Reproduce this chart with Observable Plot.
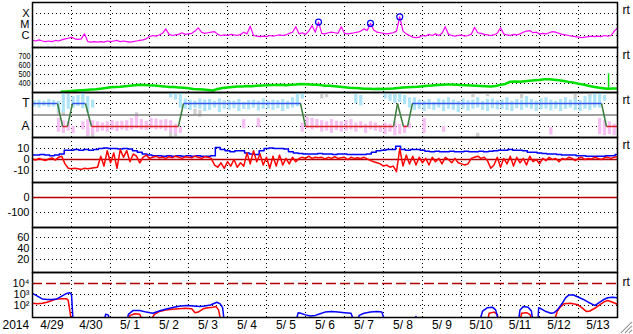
<!DOCTYPE html>
<html><head><meta charset="utf-8">
<script src="https://cdn.jsdelivr.net/npm/d3@7"></script>
<script src="https://cdn.jsdelivr.net/npm/@observablehq/plot@0.6"></script>
<style>
body{margin:0;background:#fff;}
#chart{position:relative;width:633px;height:334px;overflow:hidden;background:#fff;}
#chart svg{position:absolute;left:0;}
</style></head><body><div id="chart"></div>
<script>
// ---------- time axis (hours since 2014-04-29 00:00) ----------
const yearLabel = "2014";
const dayLabels = ["4/29","4/30","5/ 1","5/ 2","5/ 3","5/ 4","5/ 5","5/ 6","5/ 7","5/ 8","5/ 9","5/10","5/11","5/12","5/13"];
const dayGridHours = [24,48,72,96,120,144,168,192,216,240,264,288,312,336];
const dayLabelHours = [12,36,60,84,108,132,156,180,204,228,252,276,300,324,348];

// ---------- panel 1: X-ray flux (log10 W/m2), 2-hour steps ----------
const xrayTicks = [1e-4, 1e-5, 1e-6];
const xrayTickLabels = ["X","M","C"];
const xrayStepHours = 2;
const xrayLog = [
-6.45,-6.5,-6.4,-6.5,-6.55,-6.5,-6.55,-6.45,-6.5,-6.4,
-6.3,-6.25,-6.15,-6.3,-6.35,-6.3,-5.85,-6.55,-6.6,-6.55,
-6.6,-6.55,-6.6,-6.5,-6.55,-6.5,-6.45,-6.55,-6.5,-6.55,
-6.6,-6.55,-6.5,-6.45,-6.4,-6.3,-6.1,-6.0,-6.05,-5.95,
-5.8,-5.4,-5.9,-6.0,-5.95,-5.9,-5.75,-5.9,-5.85,-5.8,
-5.6,-5.3,-5.7,-5.8,-5.75,-5.7,-5.65,-5.9,-6.0,-5.95,
-6.0,-5.9,-5.95,-6.0,-5.9,-5.7,-5.85,-5.15,-6.0,-6.05,
-6.1,-6.05,-6.1,-6.0,-6.05,-6.0,-5.95,-6.0,-5.95,-5.8,
-5.7,-5.2,-5.85,-5.75,-5.9,-5.6,-5.1,-5.7,-4.78,-5.8,
-5.85,-5.75,-5.7,-5.75,-5.8,-5.2,-5.8,-5.85,-5.8,-5.75,
-5.7,-5.6,-5.4,-5.55,-4.9,-5.5,-5.7,-5.75,-5.8,-5.85,
-5.8,-5.75,-5.6,-4.3,-5.6,-5.85,-6.0,-6.15,-6.2,-6.15,
-6.0,-6.05,-5.9,-6.0,-5.85,-6.0,-5.8,-5.2,-5.9,-6.0,
-6.05,-6.0,-5.95,-6.05,-6.0,-5.9,-5.25,-5.75,-5.8,-5.9,
-5.95,-6.0,-5.95,-5.8,-5.3,-5.85,-5.95,-6.0,-5.9,-5.95,
-5.85,-5.7,-5.6,-5.55,-5.75,-5.7,-5.85,-5.8,-5.85,-5.75,
-5.65,-5.7,-5.8,-5.9,-5.95,-6.0,-6.05,-6.1,-6.15,-6.2,
-6.15,-6.1,-6.05,-6.1,-6.05,-6.1,-6.0,-6.05,-6.0,-5.6,-5.3];
const flareHours = [176, 208, 226];
const flarePeakLog = [-4.78, -4.9, -4.3];

// ---------- panel 2: solar wind speed (km/s), 3-hour steps from hour 18 ----------
const speedTicks = [700,600,500,400];
const speedStartHour = 18, speedStepHours = 3;
const speed = [
310,312,318,322,325,328,332,335,342,350,
358,362,365,370,375,380,386,384,380,378,
372,368,362,360,356,352,346,340,337,333,
328,322,340,350,355,360,366,368,372,370,
376,378,380,384,382,386,380,385,388,395,
393,390,386,382,376,374,370,364,358,353,
350,346,343,341,340,342,340,342,345,350,
355,358,362,365,370,375,378,382,385,388,
390,386,382,380,378,375,372,370,367,372,
385,395,420,422,420,425,430,435,440,446,
448,442,435,428,418,410,398,388,375,365,
355,348,342,345,345];
const speedSpike = [[354.5, 342, 508]];

// ---------- panel 3: IMF sector (T = +1, A = -1) ----------
const sectorTicks = [1, -1];
const sectorTickLabels = ["T","A"];
const sectorHours = [0,15.4,18.5,21.5,24.6,32.6,36.3,89.8,92.9,164.9,168,222.2,224.6,228.3,230.8,233.8,350.2,353.2,360];
const sectorState = ["T","T","A","A","T","T","A","A","T","T","A","A","T","A","A","T","T","A","A"];
// 3-hour bins: [bin, low, high]
const phiToward = [[0,.7,1.25],[1,.6,1.3],[2,.75,1.2],[3,.65,1.35],[4,.7,1.25],[5,.3,1.2],[6,.2,1.9],[7,.5,1.8],[8,.6,1.6],[9,.75,1.7],[10,.55,1.9],[11,.2,1.6],[12,.6,1.3],
[28,1.5,1.96],[29,1.3,1.96],[30,.6,1.9],[31,.5,1.4],[32,.4,1.3],[33,.6,1.2],[34,.5,1.4],[35,.3,1.3],[36,.4,1.35],[37,.6,1.2],[38,.2,1.4],[39,.5,1.25],[40,.4,1.3],[41,.55,1.2],[42,.3,1.35],[43,.5,1.1],[44,.45,1.25],[45,.6,1.3],[46,.35,1.2],[47,.5,1.4],[48,.5,1.2],[49,.4,1.3],[50,.55,1.25],[51,.3,1.35],[52,.5,1.2],[53,.6,1.5],[54,.7,1.96],[55,1.4,1.96],
[66,1.0,1.8],[67,.8,1.7],[72,1.4,1.9],[73,1.2,1.9],[74,1.0,1.8],[75,1.1,1.9],[76,.9,1.7],[77,.6,1.5],[78,.4,1.5],[79,.5,1.3],[80,.3,1.2],[81,.5,1.35],[82,.4,1.1],[83,.6,1.4],[84,.3,1.3],[85,.5,1.5],[86,.4,1.3],[87,.2,1.2],[88,.5,1.4],[89,.35,1.25],[90,.5,1.3],[91,.6,1.5],[92,.4,1.2],[93,.3,1.35],[94,.55,1.4],[95,.45,1.25],[96,.5,1.3],[97,.4,1.5],[98,.3,1.2],[99,.55,1.35],[100,.4,1.3],[101,.6,1.6],[102,.5,1.35],[103,.3,1.2],[104,.45,1.4],[105,.5,1.5],[106,.35,1.3],[107,.5,1.2],[108,.3,1.35],[109,.5,1.5],[110,.6,1.3],[111,.4,1.4],[112,.3,1.25],[113,.5,1.6],[114,.4,1.7],[115,.6,1.9],[116,.6,1.9],[117,1.2,1.7]];
const phiAway = [[5,-1.5,-.3],[6,-1.6,-.5],[7,-1.4,-.6],[8,-1.6,-1.0],[10,-1.3,-.6],[11,-1.8,-.4],[12,-1.7,-.5],[13,-1.5,-.6],[14,-1.4,-.7],[15,-1.5,-.6],[16,-1.35,-.5],[17,-1.45,-.6],[18,-1.3,-.55],[19,-1.4,-.5],[20,-1.3,-.3],[21,-1.2,0],[22,-1.3,-.4],[23,-1.35,-.55],[24,-1.2,-.3],[25,-1.3,-.35],[26,-1.25,-.45],[27,-1.4,-.4],[28,-1.5,-.5],[29,-1.7,-.8],[30,-1.6,-1.1],[43,-1.2,-.4],[46,-1.1,-.3],
[55,-1.5,-.7],[56,-1.2,-.2],[57,-1.3,-.3],[58,-1.2,-.4],[59,-1.5,-.5],[60,-1.4,-.6],[61,-1.6,-.4],[62,-1.35,-.55],[63,-1.5,-.6],[64,-1.4,-.5],[65,-1.3,-.4],[66,-1.5,-.7],[67,-1.2,-.6],[68,-1.6,-.8],[69,-1.3,-.6],[70,-1.4,-.7],[71,-1.5,-.9],[72,-1.7,-.7],[73,-1.5,-.8],[74,-1.8,-.6],[75,-1.7,-.8],[76,-1.6,-.9],[77,-1.2,-.7],[80,-1.6,-.3],[84,-1.5,-1.0],[106,-1.75,-1.1],[116,-1.7,-.3],[117,-1.8,-.5],[118,-1.7,-.6],[119,-1.8,-.8]];
const phiOther = [[5,0,.55],[6,-.1,.5],[11,-1.9,-1.3],[12,-1.95,-1.5],[21,-.5,.2],[28,-1.95,-1.4],[29,-1.9,-1.5],[33,0,.5],[34,-.2,.4],[59,1.4,1.9],[60,1.5,1.95],[74,1.3,1.9],[90,1.5,1.9],[91,-1.95,-1.6],[93,1.6,1.95],[100,1.4,1.9],[111,1.3,1.9],[114,1.5,1.95]];

// ---------- panel 4: IMF Bt (3-hour) and Bz (2-hour), nT ----------
const imfTicks = [10, 0, -10];
const btStepHours = 3;
const bt = [4,4,4.5,4,3.5,4,5,8.5,8.5,9,
8.5,9,8.5,9,10,10.5,10,10,9.5,10,
9.5,8,6.5,5,4,3.5,3.5,3,3.5,3,
3.5,3,3.5,3,3.5,3,3,3.5,11,9,
8,7,8,8,6,5,4.5,8,10,10.5,
10,10,9.5,7,6,5.5,5,5,5,5.5,
5,5,4.5,5,5,4.5,4.5,4.5,4.5,5,
6.5,8,8.5,9,9,12,9,8.5,9,9,
8.5,7.5,7,7.5,7,7,7.5,7,7,7.5,
7,7,7.5,7,7.5,8,8.5,8.5,9,8.5,
8.5,8,6.5,6.5,6,5.5,5,5,4.5,4,
4,4,3.5,3.5,3,3,3,3,3.5,3.5,4.5];
const bzStepHours = 2;
const bz = [0.5,-0.5,1,0,-1,0.5,1.5,-0.5,2,3,
-4,-8,-8.5,-8,-8.5,-9,-8,-8.5,-8,-7.5,
-7,3,-6,8,-3,6,-8,9,2,8,
-2,5,3,-3,2,4,1,2,3,1.5,
2,1,2.5,1.5,3,2,1,2.5,2,1.5,
3,2,1,2.5,2,1,-5,-7,-3,-8,
-2,-6,0,-7,-3,-6,6,-4,8,-2,
5,-5,2,-8,3,-6,4,-5,1,-4,
2,-2,1,2,1,3,1,2,1.5,2,
0.5,2,1,2.5,1,1.5,2,0,2,1,
1.5,1,2,0.5,-1,-2,-3,-4,-6,-5,
-7,-6,-11,10,-6,4,-4,3,-5,2,
-3,1,-5,2,-2,1,-4,2,0,-3,
1,-3,-4,-5,-4,1,2,3,1,2,
-1,-8,-5,2,-7,1,-4,3,-6,2,
-3,1,-5,3,-2,0,-4,1,-1,2,
0,1,-2,1,0,2,1,-1,1,2,
0,1,0.5,2,1,0,1.5,2,1,2,2.5];

// ---------- panel 5 / 6 ----------
const dstTicks = [0, -100];
const p6Ticks = [60, 40, 20];

// ---------- panel 7: electron flux (log10), [hour, value] ----------
const fluxTicks = [1e4, 1e3, 1e2];
const fluxTickLabels = ["10\u2074","10\u00b3","10\u00b2"];
const eBlue = [[0,3.1],[3,2.85],[6,2.6],[9,2.55],[12,2.55],[15,2.6],[18,2.85],[21,3.1],[23,3.15],[24,3.0],[25,0.5],[25.5,null],
[44,0.5],[45,1.2],[46.5,1.15],[48,0.5],[48.5,null],
[58,0.5],[59,1.2],[62,1.55],[66,1.55],[70,1.4],[74,1.3],[79,1.55],[83,1.7],[87,1.85],[91,1.95],[95,2.0],[99,1.95],[103,1.9],[106,1.95],[109.5,2.05],[113.5,2.3],[115.5,2.15],[117,1.8],[118,0.5],[118.5,null],
[162,0.5],[163.5,1.35],[165,1.3],[168,1.15],[171,1.05],[174,1.1],[177,1.25],[180,1.4],[184,1.45],[188,1.4],[192,1.35],[196,1.3],[198,0.5],[198.5,null],
[200,0.5],[201,1.1],[204,1.3],[208,1.4],[212,1.45],[215,1.4],[217,0.5],[217.5,null],
[235,0.5],[236,1.0],[237,0.5],[237.5,null],
[259,0.5],[260,0.9],[262,0.8],[263,0.5],[263.5,null],
[275,0.5],[277,1.5],[280,1.8],[283,1.85],[285,1.6],[287,0.5],[287.5,null],
[299,0.5],[300,1.6],[302,1.9],[305,1.85],[307,1.5],[308,0.5],[308.5,null],
[311,0.5],[311.5,1.8],[313,1.7],[316,1.45],[319,1.3],[321,1.35],[323,1.6],[326,2.2],[328,2.7],[330,2.95],[333,2.95],[336,2.75],[339,2.55],[342,2.3],[344,2.15],[346,2.0],[348,2.2],[351,2.5],[354,2.7],[357,2.75],[360,2.7]];
const eRed = [[0,2.2],[3,2.15],[6,2.2],[9,2.3],[12,2.45],[15,2.6],[18,2.62],[21,2.62],[22,2.45],[23,1.5],[24,0.5],[24.5,null],
[59,0.5],[60,1.1],[63,1.25],[66,1.2],[68,0.5],[68.5,null],
[72,0.5],[75,1.2],[78,1.45],[82,1.6],[86,1.65],[90,1.7],[94,1.75],[98,1.7],[100,1.35],[102,1.4],[105,1.7],[108,1.8],[111,1.85],[113,1.9],[114.5,1.6],[116,0.5],[116.5,null],
[280,0.5],[281,1.3],[284,1.4],[286,1.2],[287,0.5],[287.5,null],
[300,0.5],[301,1.3],[304,1.35],[306,1.2],[308,0.5],[308.5,null],
[321,0.5],[323,1.5],[325,1.9],[327,2.15],[331,2.2],[335,2.1],[338,1.8],[341,1.45],[343,1.5],[346,1.75],[349,2.05],[352,2.35],[354,2.45],[357,2.3],[360,2.1]];

// ---------- drawing ----------
const FONT = "'Liberation Sans', Arial, Helvetica, sans-serif";
const dotted = {stroke: "#000", strokeDasharray: "1,3", strokeWidth: 1};
const chart = document.getElementById("chart");

function rtLabel(opts = {}) {
  return Plot.text(["rt"], {text: d => d, frameAnchor: "top-right", dx: 5, dy: 8, textAnchor: "start", lineAnchor: "middle", fontSize: 12, fill: "#000", ...opts});
}
function yAxis(ticks, fmt, size = 11) {
  return Plot.axisY(ticks, {tickSize: 0, tickPadding: 3, tickFormat: fmt, fontSize: size, label: null, fill: "#000"});
}
function panel(top, y, marks, extraBottom = 0) {
  const svg = Plot.plot({
    width: 633, height: 45 + extraBottom,
    marginLeft: 32, marginRight: 16, marginTop: 0, marginBottom: extraBottom,
    x: {domain: [0, 360], axis: null},
    y,
    style: {fontFamily: FONT, fontSize: "12px", overflow: "visible", background: "transparent", color: "#000"},
    marks: [
      Plot.ruleX(dayGridHours, {x: d => d, ...dotted}),
      ...marks,
      Plot.frame({stroke: "#000", strokeWidth: 1.5})
    ]
  });
  svg.style.top = top + "px";
  chart.appendChild(svg);
  return svg;
}

// Panel 1: X-ray
panel(2, {type: "log", domain: [10 ** -7.09, 1e-3]}, [
  Plot.ruleY(xrayTicks, {y: d => d, ...dotted}),
  Plot.line(xrayLog, {x: (d, i) => i * xrayStepHours, y: d => 10 ** d, stroke: "#ff00ff", strokeWidth: 1.2, clip: true}),
  Plot.dot(flareHours, {x: d => d, y: (d, i) => 10 ** flarePeakLog[i], r: 3, stroke: "#0000ff", strokeWidth: 1.2, fill: "none"}),
  yAxis(xrayTicks, d => xrayTickLabels[xrayTicks.indexOf(d)], 11),
  rtLabel()
]);

// Panel 2: speed
const p2 = panel(47, {domain: [300, 800]}, [
  Plot.ruleY(speedTicks, {y: d => d, ...dotted}),
  Plot.line(speed, {x: (d, i) => speedStartHour + i * speedStepHours, y: d => d, stroke: "#00e000", strokeWidth: 2.5, clip: true}),
  Plot.ruleX(speedSpike, {x: d => d[0], y1: d => d[1], y2: d => d[2], stroke: "#00e000", strokeWidth: 1.5}),
  Plot.axisY(speedTicks, {tickSize: 0, tickPadding: 2, fontSize: 9, label: null, fill: "#000"}),
  rtLabel()
]);
d3.select(p2).selectAll('g[aria-label="y-axis tick label"] text')
  .attr("textLength", 12).attr("lengthAdjust", "spacingAndGlyphs");

// Panel 3: sector
const sectorSegs = sectorHours.slice(1).map((h, k) => ({x1: sectorHours[k], x2: h, s1: sectorState[k], s2: sectorState[k + 1]}));
const binRect = (data, fill) => Plot.rect(data, {x1: d => d[0] * 3 + 0.3, x2: d => d[0] * 3 + 2.3, y1: d => d[1], y2: d => d[2], fill, clip: true});
panel(92, {domain: [-1.96, 1.96]}, [
  Plot.ruleY(sectorTicks, {y: d => d, ...dotted}),
  binRect(phiOther, "#cfcfcf"),
  binRect(phiAway, "#f7bff4"),
  binRect(phiToward, "#aee4f7"),
  Plot.ruleY([0], {y: d => d, stroke: "#808080", strokeWidth: 1.5}),
  Plot.link(sectorSegs, {x1: "x1", x2: "x2", y1: d => d.s1 === "T" ? 1 : -1, y2: d => d.s2 === "T" ? 1 : -1,
    stroke: d => d.s1 !== d.s2 ? "#3b7d3b" : (d.s1 === "T" ? "#3355ee" : "#dd2222"), strokeWidth: 1.5}),
  yAxis(sectorTicks, d => sectorTickLabels[sectorTicks.indexOf(d)], 12),
  rtLabel()
]);

// Panel 4: IMF
panel(137, {domain: [-20.9, 20]}, [
  Plot.ruleY([10, -10], {y: d => d, ...dotted}),
  Plot.ruleY([0], {y: d => d, stroke: "#b00000", strokeWidth: 1.5}),
  Plot.line(bt, {x: (d, i) => i * btStepHours, y: d => d, stroke: "#0000ff", strokeWidth: 1.5, curve: "step", clip: true}),
  Plot.line(bz, {x: (d, i) => i * bzStepHours, y: d => d, stroke: "#ff0000", strokeWidth: 1.5, clip: true}),
  yAxis(imfTicks, d => String(d)),
  rtLabel()
]);

// Panel 5
panel(182, {domain: [-200, 100]}, [
  Plot.ruleY([-100], {y: d => d, ...dotted}),
  Plot.ruleY([0], {y: d => d, stroke: "#b00000", strokeWidth: 1.5}),
  yAxis(dstTicks, d => String(d))
]);

// Panel 6
panel(227, {domain: [-3.6, 78.2]}, [
  Plot.ruleY(p6Ticks, {y: d => d, ...dotted}),
  yAxis(p6Ticks, d => String(d))
]);

// Panel 7: electrons + time labels
panel(272, {type: "log", domain: [10 ** 0.91, 1e5]}, [
  Plot.ruleY([1e3, 1e2], {y: d => d, ...dotted}),
  Plot.ruleY([1e4], {y: d => d, stroke: "#b00000", strokeWidth: 1.5, strokeDasharray: "10,4"}),
  Plot.line(eRed, {x: d => d[0], y: d => d[1] == null ? NaN : 10 ** d[1], stroke: "#ff0000", strokeWidth: 1.5, clip: true}),
  Plot.line(eBlue, {x: d => d[0], y: d => d[1] == null ? NaN : 10 ** d[1], stroke: "#0000ff", strokeWidth: 1.5, clip: true}),
  yAxis(fluxTicks, d => fluxTickLabels[fluxTicks.indexOf(d)]),
  Plot.text(["rt"], {text: d => d, x: 360, y: 1e4, dx: 5, dy: -1, textAnchor: "start", lineAnchor: "middle", fontSize: 12, fill: "#000"}),
  Plot.text(dayLabelHours, {x: d => d, text: (d, i) => dayLabels[i], frameAnchor: "bottom", dy: 7.5, lineAnchor: "middle", fontSize: 12, fill: "#000"}),
  Plot.text([yearLabel], {text: d => d, frameAnchor: "bottom-left", dx: -30, dy: 7.5, textAnchor: "start", lineAnchor: "middle", fontSize: 12, fill: "#000"})
], 17);

// window resize grip (bottom-right corner decoration)
const grip = d3.create("svg").attr("width", 16).attr("height", 16).style("top", "318px").style("left", "617px");
[[15,4,4,15],[15,8,8,15],[15,12,12,15]].forEach(([a,b,c,e]) => {
  grip.append("line").attr("x1", a).attr("y1", b).attr("x2", c).attr("y2", e).attr("stroke", "#999").attr("stroke-width", 1.2);
  grip.append("line").attr("x1", a).attr("y1", b + 1.3).attr("x2", c + 1.3).attr("y2", e).attr("stroke", "#fff").attr("stroke-width", 1);
});
chart.appendChild(grip.node());
</script></body></html>
